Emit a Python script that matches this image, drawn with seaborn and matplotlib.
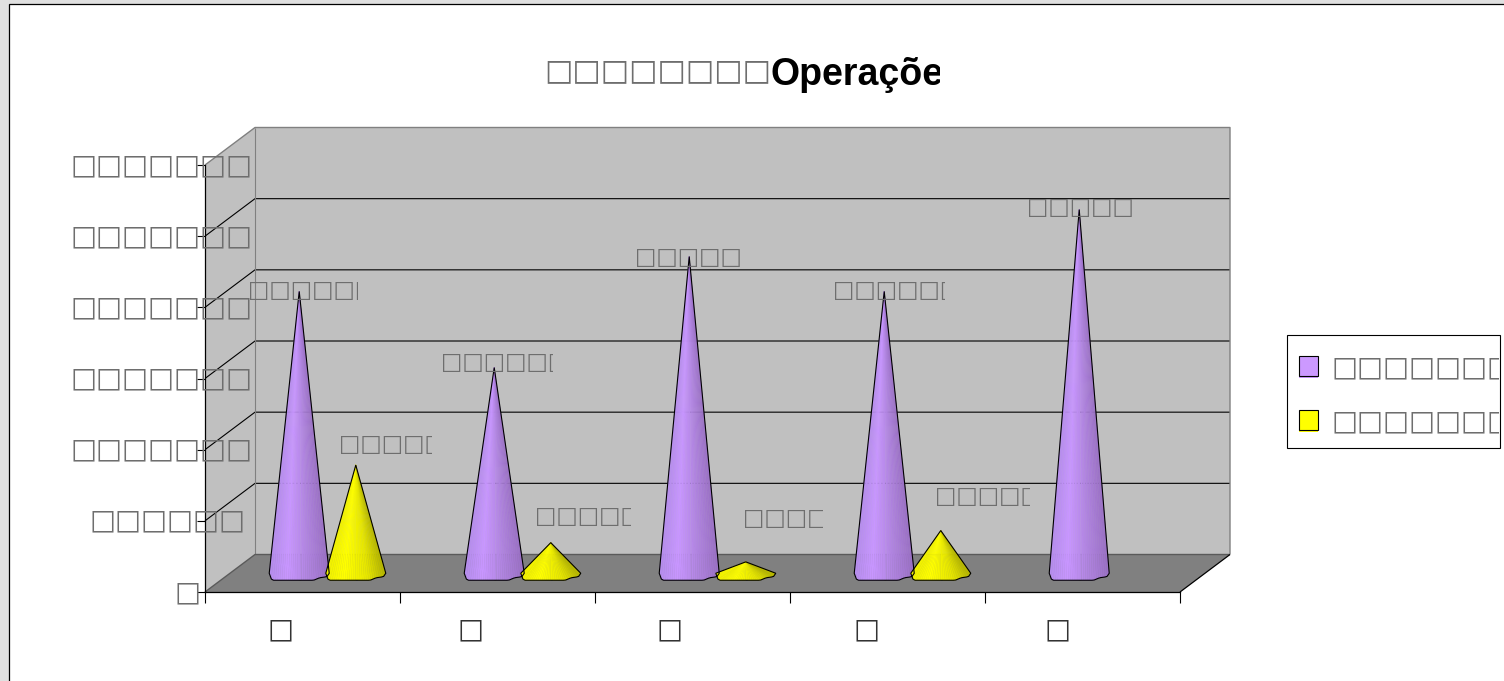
import numpy as np
import pandas as pd
import seaborn as sns
import matplotlib.pyplot as plt
from matplotlib.collections import PolyCollection
from matplotlib.colors import to_rgb
from matplotlib.patches import Polygon, Rectangle
from matplotlib.transforms import Bbox

# Values (tick units)
categories = [0, 1, 2, 3, 4]
series_names = ['s1', 's2']
series1 = [3.96, 2.89, 4.45, 3.96, 5.11]
series2 = [1.52, 0.43, 0.16, 0.60, np.nan]


def boxes(n):
    return '\u25a1' * n


title_boxes = boxes(8)
title_word = 'Operações'
ytick_labels = [boxes(1), boxes(6), boxes(7), boxes(7), boxes(7), boxes(7), boxes(7)]
xtick_labels = [boxes(1)] * 5
labels1 = [boxes(6), boxes(6), boxes(5), boxes(6), boxes(5)]
labels2 = [boxes(5), boxes(5), boxes(4), boxes(5)]
legend_labels = [boxes(7), boxes(7)]

W, H = 1504, 681
GREY = '#6e6e6e'

sns.set_style('white')
plt.rcParams['font.family'] = ['DejaVu Sans']

fig = plt.figure(figsize=(W / 100, H / 100), dpi=100, facecolor='#e0e0e0')
ax = fig.add_axes([205 / W, 1 - 592 / H, 975 / W, 427 / H])

# page frame
fig.add_artist(Rectangle((8.5 / W, -0.01), 1, 1.01 - 4 / H, transform=fig.transFigure,
                         facecolor='white', edgecolor='black', linewidth=0.9, zorder=-1))

df = pd.DataFrame({
    'cat': categories * 2,
    'series': [series_names[0]] * 5 + [series_names[1]] * 5,
    'value': series1 + series2,
})
sns.barplot(data=df, x='cat', y='value', hue='series', width=0.58,
            palette=['#cc99ff', '#ffff00'], legend=False, ax=ax)

ax.set_xlim(-0.5, 4.5)
ax.set_ylim(0, 6)
ax.set_xlabel('')
ax.set_ylabel('')
ax.patch.set_alpha(0)
ax.set_axisbelow(False)

# depth of the 3d box, in data units
DX = 50 / 195
DY = 37.5 / 71.17
x0, x1, y0, y1 = -0.5, 4.5, 0, 6


def poly(pts, fc, z=1):
    ax.add_patch(Polygon(pts, closed=True, facecolor=fc, edgecolor='none', clip_on=False, zorder=z))


def line(xs, ys, c='black', lw=0.8, z=1.5):
    ax.plot(xs, ys, color=c, lw=lw, clip_on=False, zorder=z, solid_capstyle='butt')


poly([(x0 + DX, y0 + DY), (x1 + DX, y0 + DY), (x1 + DX, y1 + DY), (x0 + DX, y1 + DY)], '#c0c0c0')
poly([(x0, y0), (x0 + DX, y0 + DY), (x0 + DX, y1 + DY), (x0, y1)], '#c0c0c0')
poly([(x0, y0), (x1, y0), (x1 + DX, y0 + DY), (x0 + DX, y0 + DY)], '#808080')

for v in range(1, 6):
    line([x0, x0 + DX, x1 + DX], [v, v + DY, v + DY])
line([x0, x0 + DX, x1 + DX, x1 + DX], [y1, y1 + DY, y1 + DY, y0 + DY], c='#808080', lw=1)
line([x0 + DX, x0 + DX], [y0 + DY, y1 + DY], c='#808080', lw=0.8)
line([x0, x0 + DX, x1 + DX], [y0, y0 + DY, y0 + DY], c='#5a5a5a', lw=1)
line([x1, x1 + DX], [y0, y0 + DY], lw=0.9)


def cone(cx, value, stops, w=30):
    # base and apex in data units, the cone stands halfway into the box
    sx, sy = 195.0, 71.17
    cx = cx + DX / 2
    by = DY / 2
    apex = (cx, by + value)
    curve = np.array([(-1, 0), (-0.97, 5), (-0.87, 7), (0.48, 7), (0.68, 4.5), (0.92, 3.5), (1, 0)], float)
    t = np.linspace(-1, 1, 29)
    cy = np.interp(t, curve[:, 0], curve[:, 1])
    bx = cx + t * w / sx
    byy = by - cy / sy
    verts, cols = [], []
    pos = np.array([s[0] for s in stops])
    rgb = np.array([to_rgb(s[1]) for s in stops])
    for i in range(len(t) - 1):
        verts.append([apex, (bx[i], byy[i]), (bx[i + 1], byy[i + 1])])
        f = (i + 0.5) / (len(t) - 1)
        cols.append([np.interp(f, pos, rgb[:, k]) for k in range(3)])
    ax.add_collection(PolyCollection(verts, facecolors=cols, edgecolors=cols, linewidths=0.3,
                                     clip_on=False, zorder=3))
    outline = [apex] + list(zip(bx, byy))
    ax.add_patch(Polygon(outline, closed=True, fill=False, edgecolor='black', linewidth=0.8,
                         clip_on=False, zorder=3.1))


purple = [(0, '#b48ceb'), (0.3, '#c896ff'), (0.65, '#b084e0'), (1, '#9a70c4')]
yellow = [(0, '#f0f000'), (0.3, '#ffff00'), (0.7, '#e6e600'), (1, '#b4b400')]

# the seaborn bars give the positions and heights, they are redrawn as cones
for container, stops in zip(ax.containers, [purple, yellow]):
    for bar in container:
        bar.set_visible(False)
        h = bar.get_height()
        if np.isfinite(h) and h > 0:
            cone(bar.get_x() + bar.get_width() / 2, h, stops)

sns.despine(ax=ax, top=True, right=True)
for s in ['left', 'bottom']:
    ax.spines[s].set_color('black')
    ax.spines[s].set_linewidth(0.9)

ax.set_xticks(np.arange(-0.5, 5))
ax.set_xticklabels([])
ax.tick_params(axis='x', length=8, width=0.8, color='black', bottom=True)
ax.set_yticks(range(7))
ax.set_yticklabels(ytick_labels, fontsize=19.8, color=GREY)
ax.tick_params(axis='y', length=6, width=0.8, color='black', left=True, pad=0)
right_edges = [198, 243, 250, 250, 250, 250, 250]
for lab, r in zip(ax.get_yticklabels(), right_edges):
    lab.set_ha('right')
    lab.set_va('center')
    lab.set_x((r - 205 + 11) / 975)

xlabel_shift = [-0.115, -0.136, -0.12, -0.11, -0.13]
for i, s in enumerate(xtick_labels):
    ax.text(i + xlabel_shift[i], -0.52, s, ha='center', va='center', fontsize=19.8, color='#333333')


def ptext(x, y, s, size, color=GREY, clip=None, va='center', **kw):
    t = fig.text(x / W, 1 - y / H, s, fontsize=size, color=color, va=va, ha='left', **kw)
    if clip is not None:
        t.set_clip_box(Bbox([[0, 0], [clip, H]]))
        t.set_clip_on(True)
    return t


ptext(544, 71, title_boxes, 21.6)
ptext(770, 85, title_word, 27, color='black', clip=940, va='baseline', fontweight='bold',
      family=['Liberation Sans', 'DejaVu Sans'])

label_pos1 = [(248, 291, 358), (441, 363, 553), (635, 257, 740), (833, 291, 945), (1027, 208, 1132)]
label_pos2 = [(339, 444, 432), (535, 517, 631), (743, 519, 823), (935, 496, 1030)]
for s, (x, y, c) in zip(labels1 + labels2, label_pos1 + label_pos2):
    ptext(x, y, s, 16.3, clip=c)

# legend box
fig.add_artist(Rectangle((1286.5 / W, 1 - 448 / H), 213 / W, 113 / H, transform=fig.transFigure,
                         facecolor='white', edgecolor='black', linewidth=0.8))
for y, c, s in zip([356, 410], ['#cc99ff', '#ffff00'], legend_labels):
    fig.add_artist(Rectangle((1299 / W, 1 - (y + 22) / H), 19 / W, 20 / H, transform=fig.transFigure,
                             facecolor=c, edgecolor='none'))
    fig.add_artist(Rectangle((1298.5 / W, 1 - (y + 20) / H), 19.5 / W, 20 / H, transform=fig.transFigure,
                             facecolor=c, edgecolor='black', linewidth=0.8))
    ptext(1331, y + 11, s, 19.8, clip=1499)

fig.savefig('out.png', dpi=100, facecolor=fig.get_facecolor())
